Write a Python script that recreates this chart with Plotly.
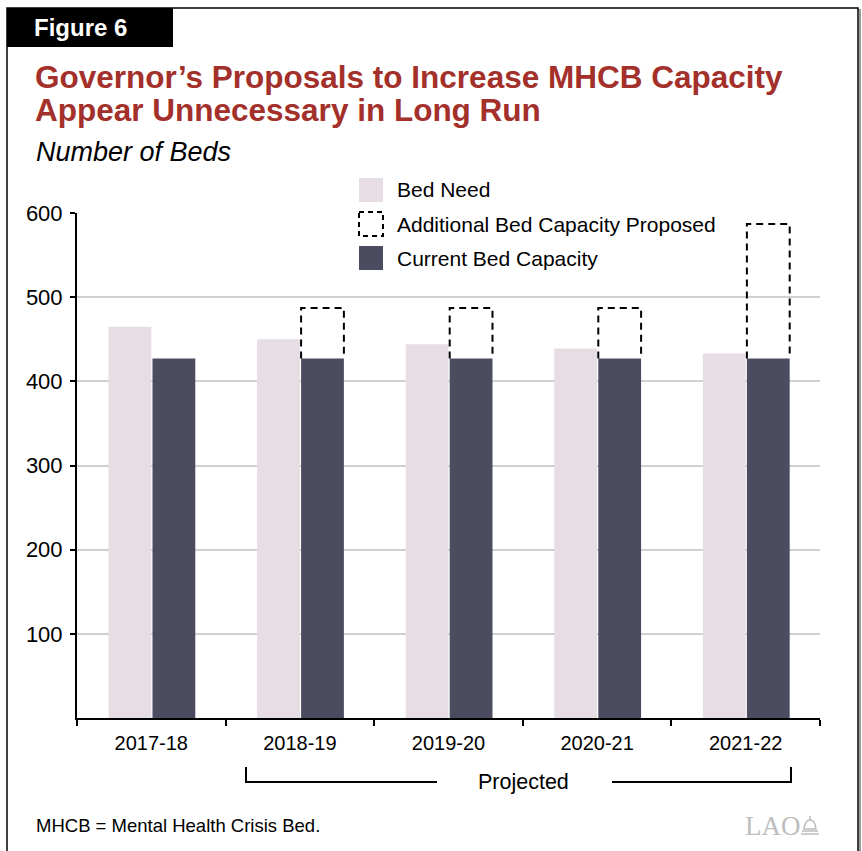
import plotly.graph_objects as go

# ---- data -------------------------------------------------------------
years = ["2017-18", "2018-19", "2019-20", "2020-21", "2021-22"]
bed_need = [465, 450, 444, 439, 433]
current_capacity = [427, 427, 427, 427, 427]
additional_proposed = [0, 60, 60, 60, 160]
y_ticks = [100, 200, 300, 400, 500, 600]

# ---- styling ----------------------------------------------------------
FONT = "Liberation Sans, Arial, Helvetica, sans-serif"
NEED_COLOR = "#e6dde5"
CAP_COLOR = "#4b4c5f"
TITLE_COLOR = "#a3302a"
LOGO_COLOR = "#bdbdbd"

W, H = 862, 851
L, R, T, B = 77, 42, 213, 133
PW, PH = W - L - R, H - T - B

BAR_W = 0.288
NEED_OFF = -0.288
CAP_OFF = 0.008


def px(x):
    return (x - L) / PW


def py(y):
    return (H - B - y) / PH


xs = list(range(len(years)))

fig = go.Figure()
fig.add_trace(go.Bar(
    x=xs, y=bed_need, width=BAR_W, offset=NEED_OFF,
    marker=dict(color=NEED_COLOR, line=dict(width=0)),
    name="Bed Need", showlegend=False,
))
fig.add_trace(go.Bar(
    x=xs, y=current_capacity, width=BAR_W, offset=CAP_OFF,
    marker=dict(color=CAP_COLOR, line=dict(width=0)),
    name="Current Bed Capacity", showlegend=False,
))

# dashed outlines for proposed additional capacity, stacked on current capacity
ox, oy = [], []
for i, (base, add) in enumerate(zip(current_capacity, additional_proposed)):
    if add <= 0:
        continue
    x0, x1 = i + CAP_OFF, i + CAP_OFF + BAR_W
    ox += [x0, x0, x1, x1, None]
    oy += [base, base + add, base + add, base, None]
fig.add_trace(go.Scatter(
    x=ox, y=oy, mode="lines", line=dict(color="black", width=2, dash="7px,5px"),
    name="Additional Bed Capacity Proposed", showlegend=False, hoverinfo="skip",
))

shapes = []
annotations = []

# outer frame with soft shadow
shapes.append(dict(type="rect", xref="paper", yref="paper",
                   x0=px(9), x1=px(860), y0=py(10), y1=py(880),
                   line=dict(color="#9a9a9a", width=2), layer="below"))
shapes.append(dict(type="rect", xref="paper", yref="paper",
                   x0=px(7), x1=px(858), y0=py(8), y1=py(880),
                   line=dict(color="black", width=1.5), fillcolor="white", layer="below"))

# "Figure 6" tab
shapes.append(dict(type="rect", xref="paper", yref="paper",
                   x0=px(7), x1=px(173), y0=py(8), y1=py(47),
                   line=dict(width=0), fillcolor="black"))
annotations.append(dict(text="<b>Figure 6</b>", xref="paper", yref="paper",
                        x=px(32), y=py(28), xanchor="left", yanchor="middle",
                        showarrow=False, font=dict(family=FONT, size=24, color="white")))

# title and subtitle
annotations.append(dict(text="<b>Governor’s Proposals to Increase MHCB Capacity</b>",
                        xref="paper", yref="paper", x=px(33), y=py(77),
                        xanchor="left", yanchor="middle", showarrow=False,
                        font=dict(family=FONT, size=31.5, color=TITLE_COLOR)))
annotations.append(dict(text="<b>Appear Unnecessary in Long Run</b>",
                        xref="paper", yref="paper", x=px(33), y=py(110),
                        xanchor="left", yanchor="middle", showarrow=False,
                        font=dict(family=FONT, size=31.5, color=TITLE_COLOR)))
annotations.append(dict(text="<i>Number of Beds</i>",
                        xref="paper", yref="paper", x=px(34), y=py(152),
                        xanchor="left", yanchor="middle", showarrow=False,
                        font=dict(family=FONT, size=27, color="black")))

# legend on a white panel that interrupts the top gridline
shapes.append(dict(type="rect", xref="paper", yref="paper",
                   x0=px(347), x1=px(720), y0=py(172), y1=py(272),
                   line=dict(width=0), fillcolor="white", layer="above"))
legend_items = [
    ("Bed Need", 190, dict(fillcolor=NEED_COLOR, line=dict(width=0))),
    ("Additional Bed Capacity Proposed", 224,
     dict(fillcolor="white", line=dict(color="black", width=2, dash="5px,4px"))),
    ("Current Bed Capacity", 258, dict(fillcolor=CAP_COLOR, line=dict(width=0))),
]
for label, yc, style in legend_items:
    shapes.append(dict(type="rect", xref="paper", yref="paper",
                       x0=px(359), x1=px(383), y0=py(yc - 12), y1=py(yc + 12), **style))
    annotations.append(dict(text=label, xref="paper", yref="paper",
                            x=px(395), y=py(yc), xanchor="left", yanchor="middle",
                            showarrow=False, font=dict(family=FONT, size=21, color="black")))

# "Projected" bracket under the forecast years
br = dict(color="black", width=2)
shapes += [
    dict(type="line", xref="paper", yref="paper", x0=px(246), x1=px(246), y0=py(767), y1=py(782), line=br),
    dict(type="line", xref="paper", yref="paper", x0=px(245), x1=px(437), y0=py(782), y1=py(782), line=br),
    dict(type="line", xref="paper", yref="paper", x0=px(612), x1=px(792), y0=py(782), y1=py(782), line=br),
    dict(type="line", xref="paper", yref="paper", x0=px(791), x1=px(791), y0=py(767), y1=py(783), line=br),
]
annotations.append(dict(text="Projected", xref="paper", yref="paper",
                        x=px(523), y=py(782), xanchor="center", yanchor="middle",
                        showarrow=False, font=dict(family=FONT, size=21.5, color="black")))

# footnote
annotations.append(dict(text="MHCB = Mental Health Crisis Bed.", xref="paper", yref="paper",
                        x=px(34), y=py(825), xanchor="left", yanchor="middle",
                        showarrow=False, font=dict(family=FONT, size=18.5, color="black")))

# LAO logo: wordmark plus a small capitol dome
annotations.append(dict(text="LAO", xref="paper", yref="paper",
                        x=px(803), y=py(826), xanchor="right", yanchor="middle",
                        showarrow=False, font=dict(family="Liberation Serif, serif", size=27, color=LOGO_COLOR)))
logo_line = dict(color=LOGO_COLOR, width=1.5)
shapes += [
    dict(type="path", xref="paper", yref="paper",
         path=f"M {px(804)},{py(829)} Q {px(805)},{py(820)} {px(810)},{py(820)} "
              f"Q {px(815)},{py(820)} {px(816)},{py(829)} Z",
         line=logo_line, fillcolor="white"),
    dict(type="line", xref="paper", yref="paper", x0=px(810), x1=px(810), y0=py(816), y1=py(820), line=logo_line),
    dict(type="line", xref="paper", yref="paper", x0=px(802), x1=px(818), y0=py(831), y1=py(831), line=logo_line),
    dict(type="line", xref="paper", yref="paper", x0=px(801), x1=px(819), y0=py(834), y1=py(834), line=logo_line),
]

fig.update_layout(
    width=W, height=H,
    margin=dict(l=L, r=R, t=T, b=B, pad=0),
    paper_bgcolor="white", plot_bgcolor="white",
    barmode="overlay", showlegend=False,
    shapes=shapes, annotations=annotations,
    font=dict(family=FONT, color="black"),
)
fig.update_xaxes(
    range=[-0.5, len(years) - 0.5], tickmode="array", tickvals=xs, ticktext=years,
    ticks="outside", ticklen=6, tickcolor="rgba(0,0,0,0)",
    tickfont=dict(family=FONT, size=20, color="black"),
    showline=True, linecolor="black", linewidth=2, showgrid=False, zeroline=False,
    minor=dict(tick0=-0.5, dtick=1, ticks="outside", ticklen=6, tickwidth=2,
               tickcolor="black", showgrid=False),
    fixedrange=True,
)
fig.update_yaxes(
    range=[0, 600], tickmode="array", tickvals=y_ticks,
    ticks="outside", ticklen=5, tickwidth=2, tickcolor="black",
    ticklabelstandoff=3,
    tickfont=dict(family=FONT, size=22, color="black"),
    showline=True, linecolor="black", linewidth=2,
    showgrid=True, gridcolor="#d0d0d0", gridwidth=1.5, zeroline=False,
    fixedrange=True,
)

fig.write_html("out.html")
